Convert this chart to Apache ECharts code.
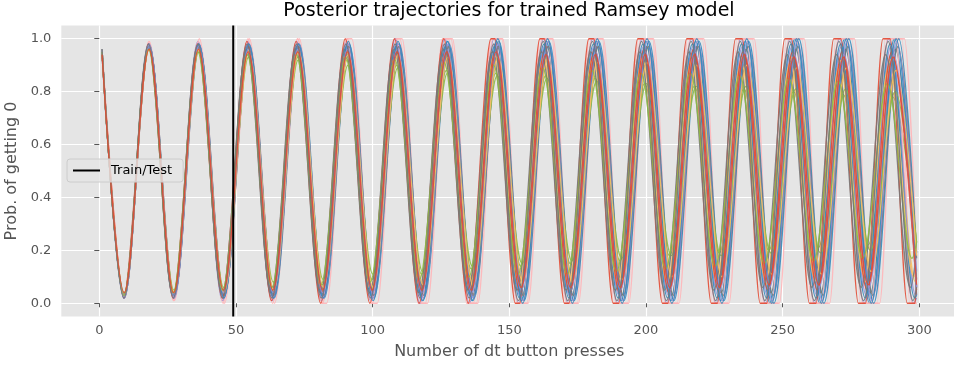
<!DOCTYPE html>
<html>
<head>
<meta charset="utf-8">
<script src="https://cdn.jsdelivr.net/npm/echarts@6/dist/echarts.min.js"></script>
<style>
html,body{margin:0;padding:0;background:#fff;}
#chart{width:954px;height:369px;}
</style>
</head>
<body>
<div id="chart"></div>
<script>
// ---- tick labels ----
const tickX = [0, 50, 100, 150, 200, 250, 300];
const tickY = [0, 0.2, 0.4, 0.6, 0.8, 1.0];
const trainTestX = 49;

// ---- posterior trajectories: x positions of turning points / plateau edges, and values ----
const r1X = [1, 9,18,27,36,45,54,63,72,81,90,99,108,117,126,135,
  143.3,144.7,152.2,153.8,161.2,162.8,170.2,171.8,179.1,180.9,188.0,190.0,197.0,199.0,206.0,208.0,214.9,217.1,
  223.9,226.1,232.8,235.2,241.8,244.2,250.8,253.2,259.8,262.2,268.7,271.3,277.7,280.3,286.7,289.3,295.6,298.4, 299];
const r1Y = [0.95, 0.03,0.98,0.02,0.98,0.02,0.99,0.01,0.99,0.00,1.00,0.00,1.00,0.00,1.00,0.00,
  1,1,0,0, 1,1,0,0, 1,1,0,0, 1,1,0,0, 1,1,0,0, 1,1,0,0, 1,1,0,0, 1,1,0,0, 1,1,0,0, 0.07];

const b1X = [1, 9.1,18.3,27.4,36.6,45.7,54.8,64.0,73.1,82.3,91.4,100.5,109.7,118.8,128.0,137.1,146.2,155.4,164.5,173.7,182.8,191.9,201.1,210.2,219.4,228.5,237.6,246.8,255.9,265.1,274.2,283.3,292.5, 299];
const b1Y = [0.94, 0.03,0.97,0.03,0.97,0.03,0.98,0.02,0.98,0.02,0.98,0.02,0.98,0.02,0.98,0.02,0.99,0.01,0.99,0.01,0.99,0.01,0.99,0.01,0.99,0.01,0.99,0.00,1.00,0.00,1.00,0.00,1.00, 0.19];

const p1X = [1, 9.0,18.1,27.1,36.1,45.1,54.2,63.2,72.2,81.2,90.3,99.3,108.3,117.3,126.4,135.4,144.4,153.4,162.5,171.5,180.5,189.5,198.6,207.6,216.6,225.6,234.7,243.7,252.7,261.7,270.8,279.8,288.8,297.8, 299];
const p1Y = [0.96, 0.02,0.98,0.02,0.99,0.01,0.99,0.01,0.99,0.01,0.99,0.01,1.00,0.00,1.00,0.00,1.00,0.00,1.00,0.00,1.00,0.00,1.00,0.00,1.00,0.00,1.00,0.00,1.00,0.00,1.00,0.00,1.00,0.00, 0.02];

const g1X = [1, 9.1,18.2,27.3,36.4,45.5,54.6,63.7,72.8,81.9,91.0,100.1,109.2,118.3,127.4,136.5,145.6,154.7,163.8,172.9,182.0,191.1,200.2,209.3,218.4,227.5,236.6,245.7,254.8,263.9,273.0,282.1,291.2, 299];
const g1Y = [0.96, 0.02,0.98,0.02,0.98,0.02,0.98,0.02,0.98,0.03,0.97,0.03,0.97,0.03,0.97,0.03,0.97,0.03,0.97,0.03,0.97,0.03,0.97,0.03,0.97,0.04,0.96,0.04,0.96,0.04,0.96,0.04,0.96, 0.09];

const y1X = [1, 9.1,18.1,27.2,36.2,45.3,54.3,63.4,72.4,81.5,90.5,99.6,108.6,117.7,126.7,135.8,144.8,153.9,162.9,172.0,181.0,190.1,199.1,208.2,217.2,226.3,235.3,244.4,253.4,262.5,271.5,280.6,289.6,298.7, 299];
const y1Y = [0.95, 0.03,0.97,0.04,0.96,0.04,0.96,0.04,0.96,0.04,0.95,0.05,0.95,0.05,0.95,0.05,0.95,0.06,0.94,0.06,0.94,0.06,0.94,0.07,0.93,0.07,0.93,0.07,0.93,0.08,0.92,0.08,0.92,0.08, 0.08];

const gr1X = [1, 9.1,18.1,27.2,36.3,45.4,54.4,63.5,72.6,81.6,90.7,99.8,108.8,117.9,127.0,136.1,145.1,154.2,163.3,172.3,181.4,190.5,199.5,208.6,217.7,226.8,235.8,244.9,254.0,263.0,272.1,281.2,290.2, 299];
const gr1Y = [0.96, 0.03,0.97,0.04,0.96,0.05,0.94,0.06,0.93,0.07,0.92,0.09,0.90,0.11,0.88,0.13,0.87,0.14,0.86,0.15,0.85,0.16,0.83,0.18,0.82,0.19,0.81,0.20,0.80,0.21,0.79,0.22,0.78, 0.23];

const k1X = [1, 9.1,18.2,27.2,36.3,45.4,54.5,63.6,72.6,81.7,90.8,99.9,
  108.0,110.0,116.7,119.3,125.5,128.7,134.4,138.0,143.3,147.3,152.2,156.5,161.1,165.7,170.1,174.9,179.1,184.1,
  188.1,193.3,197.1,202.5,206.1,211.5,215.1,220.7,224.1,229.9,233.2,239.0,242.2,248.2,251.2,257.2,260.2,266.4,
  269.3,275.5,278.3,284.7,287.4,293.8, 296.4,299];
const k1Y = [0.96, 0.02,0.98,0.01,0.99,0.01,0.99,0.01,1.00,0.00,1.00,0.00,
  1,1,0,0, 1,1,0,0, 1,1,0,0, 1,1,0,0, 1,1,0,0, 1,1,0,0, 1,1,0,0, 1,1,0,0, 1,1,0,0, 1,1,0,0, 1,1,
  0,0];

const r2X = [1, 9.1,18.2,27.2,36.3,45.4,54.5,63.5,72.6,81.7,90.8,99.8,108.9,118.0,127.1,136.1,145.2,154.3,163.4,172.4,181.5,190.6,199.7,208.7,217.8,226.9,236.0,245.0,254.1,263.2,272.3,281.3,290.4, 299];
const r2Y = [0.94, 0.04,0.96,0.04,0.96,0.05,0.95,0.05,0.95,0.05,0.95,0.05,0.95,0.05,0.95,0.05,0.95,0.06,0.94,0.06,0.94,0.06,0.94,0.06,0.94,0.06,0.94,0.07,0.93,0.07,0.93,0.07,0.93, 0.07];

const b2X = [1, 9.0,18.1,27.1,36.2,45.2,54.2,63.3,72.3,81.4,90.4,99.4,108.5,117.5,126.6,135.6,144.6,153.7,162.7,171.8,180.8,189.8,198.9,207.9,217.0,226.0,235.0,244.1,253.1,262.2,271.2,280.2,289.3,298.3, 299];
const b2Y = [0.95, 0.03,0.97,0.03,0.97,0.03,0.97,0.03,0.97,0.03,0.97,0.03,0.97,0.03,0.97,0.03,0.97,0.02,0.98,0.02,0.98,0.02,0.98,0.02,0.98,0.02,0.98,0.02,0.98,0.02,0.98,0.02,0.98,0.02, 0.03];

const p2X = [1, 9.1,18.2,27.4,36.5,45.6,54.7,63.8,73.0,82.1,91.2,100.3,109.4,118.6,127.7,136.8,145.9,155.0,164.2,173.3,182.4,191.5,200.6,209.8,218.9,228.0,237.1,246.2,255.4,264.5,273.6,282.7,291.8, 299];
const p2Y = [0.96, 0.02,0.98,0.02,0.98,0.02,0.98,0.02,0.98,0.02,0.98,0.02,0.98,0.02,0.98,0.02,0.98,0.01,0.99,0.01,0.99,0.01,0.99,0.01,0.99,0.01,0.99,0.01,0.99,0.01,0.99,0.01,0.99, 0.12];

const g2X = [1, 9.0,18.0,27.0,36.0,45.0,53.9,62.9,71.9,80.9,89.9,98.9,107.9,116.9,125.9,134.9,143.8,152.8,161.8,170.8,179.8,188.8,197.8,206.8,215.8,224.8,233.7,242.7,251.7,260.7,269.7,278.7,287.7,296.7, 299];
const g2Y = [0.95, 0.03,0.97,0.03,0.97,0.04,0.96,0.04,0.96,0.04,0.96,0.04,0.96,0.04,0.96,0.05,0.95,0.05,0.95,0.05,0.95,0.05,0.95,0.05,0.95,0.05,0.95,0.06,0.94,0.06,0.94,0.06,0.94,0.06, 0.20];

const y2X = [1, 9.1,18.2,27.3,36.4,45.6,54.7,63.8,72.9,82.0,91.1,100.2,109.3,118.4,127.5,136.7,145.8,154.9,164.0,173.1,182.2,191.3,200.4,209.5,218.6,227.8,236.9,246.0,255.1,264.2,273.3,282.4,291.5, 299];
const y2Y = [0.95, 0.03,0.96,0.04,0.96,0.04,0.95,0.05,0.95,0.06,0.94,0.06,0.94,0.07,0.93,0.07,0.93,0.08,0.92,0.08,0.91,0.09,0.91,0.10,0.90,0.10,0.90,0.11,0.89,0.11,0.89,0.12,0.88, 0.18];

const gr2X = [1, 9.0,18.0,27.0,36.0,45.1,54.1,63.1,72.1,81.1,90.1,99.1,108.1,117.1,126.1,135.2,144.2,153.2,162.2,171.2,180.2,189.2,198.2,207.2,216.2,225.3,234.3,243.3,252.3,261.3,270.3,279.3,288.3,297.3, 299];
const gr2Y = [0.95, 0.03,0.96,0.04,0.95,0.05,0.94,0.06,0.94,0.07,0.93,0.08,0.92,0.09,0.91,0.10,0.90,0.11,0.89,0.11,0.88,0.12,0.87,0.13,0.87,0.14,0.86,0.15,0.85,0.16,0.84,0.17,0.83,0.17, 0.23];

const k2X = [1, 9.2,18.3,27.5,36.6,45.8,54.9,64.1,73.2,
  81.6,83.2,90.6,92.4,99.7,101.7,108.8,110.8,117.9,120.1,127.0,129.2,136.1,138.5,145.2,147.6,154.3,156.9,
  163.4,166.0,172.5,175.3,181.6,184.4,190.7,193.7,199.8,202.8,208.9,212.1,218.0,221.2,227.2,230.4,236.2,239.6,
  245.4,248.8,254.5,257.9,263.6,267.2,272.7,276.3,281.9,285.5,291.0,294.6, 299];
const k2Y = [0.96, 0.02,0.99,0.01,1.00,0.00,1.00,0.00,1.00,
  0,0,1,1, 0,0,1,1, 0,0,1,1, 0,0,1,1, 0,0,1,1, 0,0,1,1, 0,0,1,1, 0,0,1,1, 0,0,1,1, 0,0,1,1, 0,0,1,1, 0,0,1,1,
  0.18];

const r3X = [1, 9.1,18.1,27.2,36.2,45.3,54.4,63.4,72.5,81.5,90.6,99.7,108.7,117.8,126.8,135.9,145.0,154.0,163.1,172.1,181.2,190.3,199.3,208.4,217.4,226.5,235.6,244.6,253.7,262.7,271.8,280.9,289.9, 299];
const r3Y = [0.95, 0.03,0.97,0.03,0.97,0.03,0.97,0.03,0.97,0.04,0.96,0.04,0.96,0.04,0.96,0.04,0.96,0.04,0.96,0.04,0.96,0.04,0.96,0.04,0.96,0.05,0.95,0.05,0.95,0.05,0.95,0.05,0.95, 0.05];

const b3X = [1, 9.1,18.2,27.3,36.4,45.5,54.5,63.6,72.7,81.8,90.9,100.0,109.1,118.2,127.3,136.4,145.4,154.5,163.6,172.7,181.8,190.9,200.0,209.1,218.2,227.3,236.3,245.4,254.5,263.6,272.7,281.8,290.9, 299];
const b3Y = [0.96, 0.02,0.98,0.02,0.98,0.02,0.98,0.02,0.98,0.02,0.98,0.02,0.98,0.01,0.99,0.01,0.99,0.01,0.99,0.01,0.99,0.01,0.99,0.01,0.99,0.01,0.99,0.00,1.00,0.00,1.00,0.00,1.00, 0.03];

const p3X = [1, 9.1,18.1,27.2,36.2,45.3,54.3,63.4,72.4,81.5,90.5,99.6,108.6,117.7,126.7,135.8,144.8,153.9,162.9,172.0,181.0,190.1,199.1,208.2,217.2,226.3,235.3,244.4,253.4,262.5,271.5,280.6,289.6,298.7, 299];
const p3Y = [0.96, 0.02,0.98,0.02,0.98,0.02,0.98,0.02,0.98,0.02,0.98,0.02,0.98,0.02,0.98,0.02,0.98,0.03,0.97,0.03,0.97,0.03,0.97,0.03,0.97,0.03,0.97,0.03,0.97,0.03,0.97,0.03,0.97,0.03, 0.03];

const g3X = [1, 9.1,18.3,27.4,36.5,45.7,54.8,63.9,73.0,82.2,91.3,100.4,109.6,118.7,127.8,137.0,146.1,155.2,164.3,173.5,182.6,191.7,200.9,210.0,219.1,228.3,237.4,246.5,255.6,264.8,273.9,283.0,292.2, 299];
const g3Y = [0.95, 0.03,0.97,0.03,0.97,0.03,0.97,0.03,0.97,0.03,0.97,0.03,0.97,0.03,0.97,0.03,0.97,0.03,0.97,0.03,0.97,0.03,0.97,0.03,0.97,0.03,0.97,0.03,0.97,0.03,0.97,0.03,0.97, 0.17];

const y3X = [1, 9.0,18.1,27.1,36.1,45.2,54.2,63.2,72.2,81.3,90.3,99.3,108.4,117.4,126.4,135.5,144.5,153.5,162.5,171.6,180.6,189.6,198.7,207.7,216.7,225.8,234.8,243.8,252.8,261.9,270.9,279.9,289.0,298.0, 299];
const y3Y = [0.95, 0.03,0.97,0.04,0.96,0.04,0.96,0.05,0.95,0.05,0.95,0.05,0.94,0.06,0.94,0.06,0.94,0.07,0.93,0.07,0.93,0.08,0.92,0.08,0.92,0.09,0.91,0.09,0.91,0.09,0.90,0.10,0.90,0.10, 0.13];

const gr3X = [1, 9.1,18.2,27.3,36.4,45.5,54.6,63.7,72.8,81.9,91.0,100.1,109.2,118.3,127.4,136.5,145.6,154.7,163.8,172.9,182.0,191.1,200.2,209.3,218.4,227.5,236.6,245.7,254.8,263.9,273.0,282.1,291.2, 299];
const gr3Y = [0.96, 0.04,0.96,0.05,0.95,0.06,0.93,0.08,0.92,0.09,0.90,0.11,0.89,0.12,0.87,0.14,0.86,0.15,0.85,0.16,0.84,0.17,0.83,0.18,0.82,0.18,0.82,0.19,0.81,0.19,0.81,0.20,0.80, 0.23];

const k3X = [1, 9.1,18.1,27.2,36.2,45.3,54.4,63.4,72.5,81.5,90.6,99.7,108.7,117.8,
  126.0,127.7,135.0,136.8,144.0,145.9,153.0,155.0,162.0,164.1,171.0,173.2,180.1,182.4,189.1,191.5,198.1,200.6,
  207.1,209.6,216.2,218.7,225.2,227.8,234.2,236.9,243.2,246.0,252.3,255.1,261.3,264.2,270.3,273.3,279.3,282.4,
  288.4,291.4, 297.4,299];
const k3Y = [0.96, 0.02,0.99,0.01,0.99,0.00,1.00,0.00,1.00,0.00,1.00,0.00,1.00,0.00,
  1,1,0,0, 1,1,0,0, 1,1,0,0, 1,1,0,0, 1,1,0,0, 1,1,0,0, 1,1,0,0, 1,1,0,0, 1,1,0,0, 1,1,
  0,0];

const b4X = [1, 9.1,18.2,27.3,36.4,45.6,54.7,63.8,72.9,82.0,91.1,100.2,109.3,118.4,127.5,136.7,145.8,154.9,164.0,173.1,182.2,191.3,200.4,209.5,218.6,227.8,236.9,246.0,255.1,264.2,273.3,282.4,291.5, 299];
const b4Y = [0.95, 0.03,0.97,0.03,0.98,0.02,0.98,0.02,0.98,0.02,0.99,0.01,0.99,0.01,0.99,0.01,1.00,0.00,1.00,0.00,1.00,0.00,1.00,0.00,1.00,0.00,1.00,0.00,1.00,0.00,1.00,0.00,1.00, 0.06];

const p4X = [1, 9.1,18.2,27.2,36.3,45.4,54.5,63.6,72.6,81.7,90.8,99.9,109.0,118.0,127.1,136.2,145.3,154.4,163.4,172.5,181.6,190.7,199.8,208.8,217.9,227.0,236.1,245.2,254.2,263.3,272.4,281.5,290.6, 299];
const p4Y = [0.95, 0.03,0.97,0.03,0.97,0.04,0.96,0.04,0.96,0.04,0.96,0.04,0.96,0.04,0.96,0.04,0.95,0.05,0.95,0.05,0.95,0.05,0.95,0.05,0.95,0.05,0.95,0.06,0.94,0.06,0.94,0.06,0.94, 0.06];

const g4X = [1, 9.0,18.0,27.1,36.1,45.1,54.1,63.1,72.2,81.2,90.2,99.2,108.2,117.3,126.3,135.3,144.3,153.3,162.4,171.4,180.4,189.4,198.4,207.5,216.5,225.5,234.5,243.5,252.6,261.6,270.6,279.6,288.6,297.7, 299];
const g4Y = [0.96, 0.02,0.98,0.02,0.98,0.02,0.98,0.02,0.98,0.02,0.98,0.02,0.98,0.02,0.98,0.02,0.98,0.01,0.99,0.01,0.99,0.01,0.99,0.01,0.99,0.01,0.99,0.01,0.99,0.01,0.99,0.01,0.99,0.01, 0.06];

// ---- styling (ggplot palette) ----
const RED='#E24A33', BLUE='#348ABD', PURPLE='#988ED5', GRAY='#777777', YELLOW='#FBC15E', GREEN='#8EBA42', PINK='#FFB5B8';

const trajectories = [
  {x:k1X, y:k1Y, c:PINK, s:0.3},
  {x:k2X, y:k2Y, c:PINK, s:0.3},
  {x:b1X, y:b1Y, c:BLUE, s:0.36},
  {x:p1X, y:p1Y, c:PURPLE, s:0.36},
  {x:g1X, y:g1Y, c:GRAY, s:0.36},
  {x:b3X, y:b3Y, c:BLUE, s:0.36},
  {x:y1X, y:y1Y, c:YELLOW, s:0.36},
  {x:gr1X, y:gr1Y, c:GREEN, s:0.36},
  {x:k3X, y:k3Y, c:PINK, s:0.3},
  {x:r1X, y:r1Y, c:RED, s:0.3},
  {x:p3X, y:p3Y, c:PURPLE, s:0.36},
  {x:g3X, y:g3Y, c:GRAY, s:0.36},
  {x:b2X, y:b2Y, c:BLUE, s:0.36},
  {x:y3X, y:y3Y, c:YELLOW, s:0.36},
  {x:gr3X, y:gr3Y, c:GREEN, s:0.36},
  {x:r3X, y:r3Y, c:RED, s:0.36},
  {x:p2X, y:p2Y, c:PURPLE, s:0.36},
  {x:g2X, y:g2Y, c:GRAY, s:0.36},
  {x:b4X, y:b4Y, c:BLUE, s:0.36},
  {x:y2X, y:y2Y, c:YELLOW, s:0.36},
  {x:p4X, y:p4Y, c:PURPLE, s:0.36},
  {x:gr2X, y:gr2Y, c:GREEN, s:0.36},
  {x:g4X, y:g4Y, c:GRAY, s:0.36},
  {x:r2X, y:r2Y, c:RED, s:0.36}
];

const series = trajectories.map((t, i) => ({
  type: 'line',
  name: 'traj' + i,
  data: t.x.map((xv, k) => [xv, t.y[k]]),
  showSymbol: false,
  symbol: 'none',
  smooth: t.s,
  smoothMonotone: 'x',
  lineStyle: { color: t.c, width: 1.3, opacity: 0.9 },
  itemStyle: { color: t.c },
  silent: true,
  animation: false,
  z: 2
}));

series.push({
  type: 'line',
  name: 'Train/Test',
  data: [[trainTestX, -0.05], [trainTestX, 1.05]],
  showSymbol: false,
  symbol: 'none',
  lineStyle: { color: '#000000', width: 2 },
  itemStyle: { color: '#000000' },
  animation: false,
  z: 3
});

const chart = echarts.init(document.getElementById('chart'), null, { renderer: 'canvas' });
chart.setOption({
  animation: false,
  backgroundColor: '#ffffff',
  textStyle: { fontFamily: 'DejaVu Sans' },
  title: {
    text: 'Posterior trajectories for trained Ramsey model',
    left: 509, top: 2, textAlign: 'center', padding: 0,
    textStyle: { fontFamily: 'DejaVu Sans', fontSize: 19, fontWeight: 'normal', color: '#000000' }
  },
  legend: {
    data: ['Train/Test'],
    left: 67, top: 159,
    padding: [5, 11, 5, 6],
    icon: 'rect',
    itemWidth: 27, itemHeight: 2,
    backgroundColor: 'rgba(229,229,229,0.8)',
    borderColor: '#cccccc', borderWidth: 1, borderRadius: 3,
    textStyle: { fontFamily: 'DejaVu Sans', fontSize: 13, color: '#000000', padding: [0, 0, 0, 6] }
  },
  grid: {
    left: 61.3, top: 25.5, width: 896, height: 291,
    outerBoundsMode: 'none',
    show: true, backgroundColor: '#E5E5E5', borderWidth: 0, containLabel: false
  },
  xAxis: {
    type: 'value', min: -13.9, max: 313.9,
    name: 'Number of dt button presses', nameLocation: 'middle', nameGap: 27,
    nameTextStyle: { fontFamily: 'DejaVu Sans', fontSize: 16, color: '#555555' },
    axisLine: { show: false },
    axisTick: { show: true, length: 4, lineStyle: { color: '#555555' }, customValues: tickX },
    axisLabel: { fontFamily: 'DejaVu Sans', fontSize: 13, color: '#555555', margin: 8, customValues: tickX },
    splitLine: { show: true, lineStyle: { color: '#ffffff', width: 1.2 } }
  },
  yAxis: {
    type: 'value', min: -0.05, max: 1.05,
    name: 'Prob. of getting 0', nameLocation: 'middle', nameGap: 36,
    nameTextStyle: { fontFamily: 'DejaVu Sans', fontSize: 16, color: '#555555' },
    axisLine: { show: false },
    axisTick: { show: true, length: 5, lineStyle: { color: '#555555' }, customValues: tickY },
    axisLabel: { fontFamily: 'DejaVu Sans', fontSize: 13, color: '#555555', margin: 10, customValues: tickY,
      formatter: v => v.toFixed(1) },
    splitLine: { show: true, lineStyle: { color: '#ffffff', width: 1.2 } }
  },
  series: series
});
</script>
</body>
</html>
